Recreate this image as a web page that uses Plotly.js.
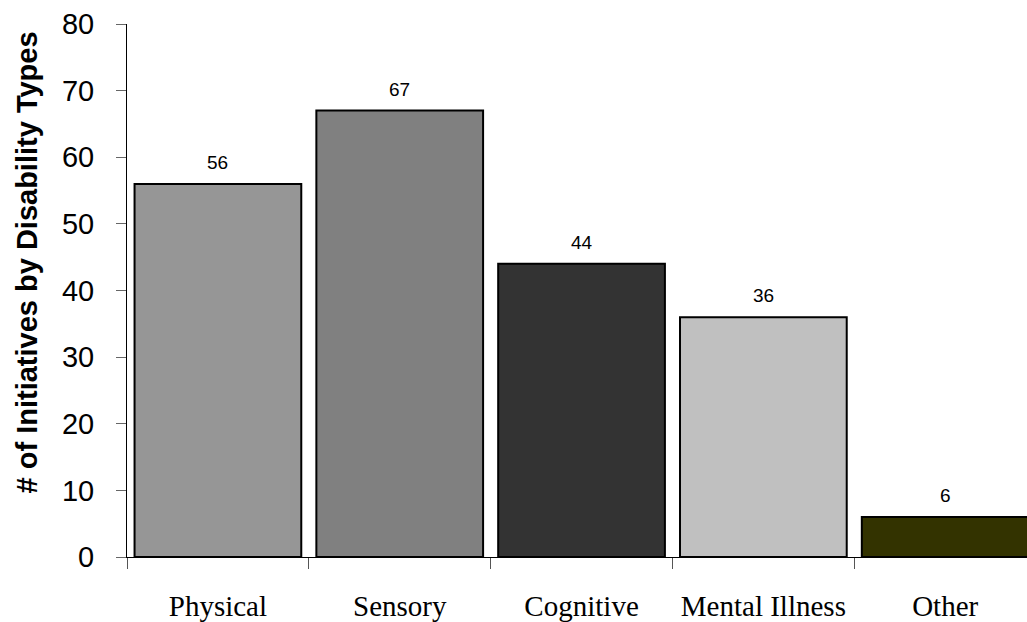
<!DOCTYPE html>
<html>
<head>
<meta charset="utf-8">
<script src="https://cdn.plot.ly/plotly-3.0.1.min.js"></script>
<style>
  html, body { margin: 0; padding: 0; background: #fff; overflow: hidden; }
  #chart { width: 1027px; height: 622px; }
</style>
</head>
<body>
<div id="chart"></div>
<script>
// Initiatives counted per disability type
const categories = ["Physical", "Sensory", "Cognitive", "Mental Illness", "Other"];
const counts = [56, 67, 44, 36, 6];
const barColors = ["#969696", "#808080", "#333333", "#C0C0C0", "#333300"];
const yTicks = [0, 10, 20, 30, 40, 50, 60, 70, 80];
const yTitle = "# of Initiatives by Disability Types";

const trace = {
  type: "bar",
  x: categories,
  y: counts,
  marker: { color: barColors, line: { color: "#000", width: 2 } },
  hoverinfo: "x+y"
};

// value labels above each bar
const labels = categories.map((c, i) => ({
  x: c, y: counts[i], text: String(counts[i]),
  showarrow: false, yanchor: "bottom", yshift: 9,
  font: { family: "Liberation Sans, Arial, sans-serif", size: 19, color: "#000" }
}));

// vertical axis caption, set slightly above the plot's middle
labels.push({
  xref: "paper", yref: "paper", x: -0.1106, y: 0.5535,
  xanchor: "center", yanchor: "middle", textangle: -90, showarrow: false,
  text: "<b>" + yTitle + "</b>",
  font: { family: "Liberation Sans, Arial, sans-serif", size: 29, color: "#000" }
});

const layout = {
  width: 1027, height: 622,
  margin: { l: 127, r: 0, t: 24, b: 65 },
  paper_bgcolor: "#fff", plot_bgcolor: "#fff",
  showlegend: false,
  bargap: 0.083,
  xaxis: {
    type: "category",
    range: [-0.5, 4.45],
    autorange: false,
    showline: true, linecolor: "#000", linewidth: 1,
    ticks: "outside", tickson: "boundaries", ticklen: 11, tickcolor: "#555", tickwidth: 1,
    ticklabelstandoff: 23,
    showgrid: false, zeroline: false,
    tickfont: { family: "Liberation Serif, Times New Roman, serif", size: 29, color: "#000" }
  },
  yaxis: {
    range: [0, 80], autorange: false,
    tickvals: yTicks,
    showline: true, linecolor: "#000", linewidth: 1,
    ticks: "outside", ticklen: 10, tickcolor: "#666", tickwidth: 1,
    ticklabelstandoff: 16,
    showgrid: false, zeroline: false,
    tickfont: { family: "Liberation Sans, Arial, sans-serif", size: 29, color: "#000" }
  },
  annotations: labels
};

Plotly.newPlot("chart", [trace], layout, { displayModeBar: false, staticPlot: true });
</script>
</body>
</html>
